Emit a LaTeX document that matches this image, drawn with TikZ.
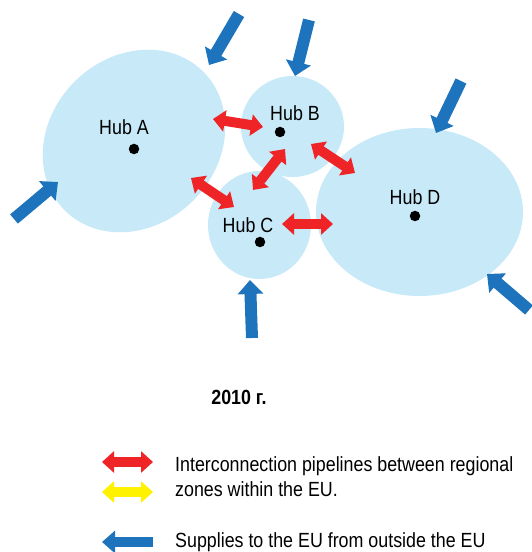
\documentclass[tikz,border=0pt]{standalone}
\usepackage{fontspec}
\setmainfont{Liberation Sans}[FakeStretch=0.87]
\usetikzlibrary{shapes.geometric,arrows.meta}
\definecolor{blobblue}{HTML}{C7E9F8}
\definecolor{supplyblue}{HTML}{1E74BC}
\definecolor{linkred}{HTML}{EE2427}
\definecolor{linkyellow}{HTML}{FFF200}
\tikzset{
  blob/.style={ellipse, fill=blobblue, inner sep=0pt},
  hubdot/.style={circle, fill=black, inner sep=0pt, minimum size=10.5pt},
  hublabel/.style={anchor=base, inner sep=0pt, font=\fontsize{20.5}{24}\selectfont},
  legendtext/.style={anchor=base west, inner sep=0pt, font=\fontsize{20.5}{24}\selectfont},
  supply/.style={draw=supplyblue, line width=12pt, -{Triangle[width=25pt,length=14pt]}},
  legendsupply/.style={draw=supplyblue, line width=10pt, -{Triangle[width=22pt,length=13pt]}},
  link/.style={line width=10pt, {Triangle[width=21pt,length=12pt]}-{Triangle[width=21pt,length=12pt]}},
}
\begin{document}
\begin{tikzpicture}[x=1pt,y=1pt]
\useasboundingbox (0,0) rectangle (532,552);

% regional zones
\node[blob, minimum width=196pt, minimum height=168pt, rotate=45] (A) at (134,411) {};
\node[blob, minimum width=103pt, minimum height=101pt] (B) at (292.5,425.5) {};
\node[blob, minimum width=103pt, minimum height=108pt] (C) at (259.5,327) {};
\node[blob, minimum width=207pt, minimum height=168pt] (D) at (419.5,340) {};

% hubs
\node[hubdot] (dA) at (134,403) {};
\node[hubdot] (dB) at (280,420) {};
\node[hubdot] (dC) at (260,310) {};
\node[hubdot] (dD) at (415,336) {};
\node[hublabel] (lA) at (124,417) {Hub A};
\node[hublabel] (lB) at (295,431.5) {Hub B};
\node[hublabel] (lC) at (248,319.5) {Hub C};
\node[hublabel] (lD) at (415,347.4) {Hub D};

% supplies from outside the EU
\coordinate (s1) at (239,538); \coordinate (t1) at (209,487);
\coordinate (s2) at (309,532); \coordinate (t2) at (295,476);
\coordinate (s3) at (461,471); \coordinate (t3) at (436,419);
\coordinate (s4) at (14,333);  \coordinate (t4) at (58,370);
\coordinate (s5) at (252,214); \coordinate (t5) at (250,272);
\coordinate (s6) at (529,242); \coordinate (t6) at (487,278);
\foreach \i in {1,...,6} \draw[supply] (s\i) -- (t\i);

% interconnections between zones
\coordinate (ab1) at (213,433); \coordinate (ab2) at (263,425);
\coordinate (ac1) at (191,374); \coordinate (ac2) at (234,345);
\coordinate (bc1) at (285,403); \coordinate (bc2) at (253,362);
\coordinate (bd1) at (311,408); \coordinate (bd2) at (355,379);
\coordinate (cd1) at (282,328); \coordinate (cd2) at (333,328);
\foreach \p in {ab,ac,bc,bd,cd} \draw[link, draw=linkred] (\p1) -- (\p2);

% year
\node[anchor=base, inner sep=0pt, font=\fontsize{20.5}{24}\selectfont\bfseries] (year) at (239,147) {2010 г.};

% legend
\coordinate (r1) at (102,90); \coordinate (r2) at (153,90);
\coordinate (y1) at (102,60); \coordinate (y2) at (153,60);
\coordinate (b1) at (153,10); \coordinate (b2) at (102,10);
\draw[link, draw=linkred] (r1) -- (r2);
\draw[link, draw=linkyellow] (y1) -- (y2);
\draw[legendsupply] (b1) -- (b2);
\node[legendtext] (leg1) at (175,80) {Interconnection pipelines between regional};
\node[legendtext] (leg2) at (175,55) {zones within the EU.};
\node[legendtext] (leg3) at (175,4.6) {Supplies to the EU from outside the EU};
\end{tikzpicture}
\end{document}
